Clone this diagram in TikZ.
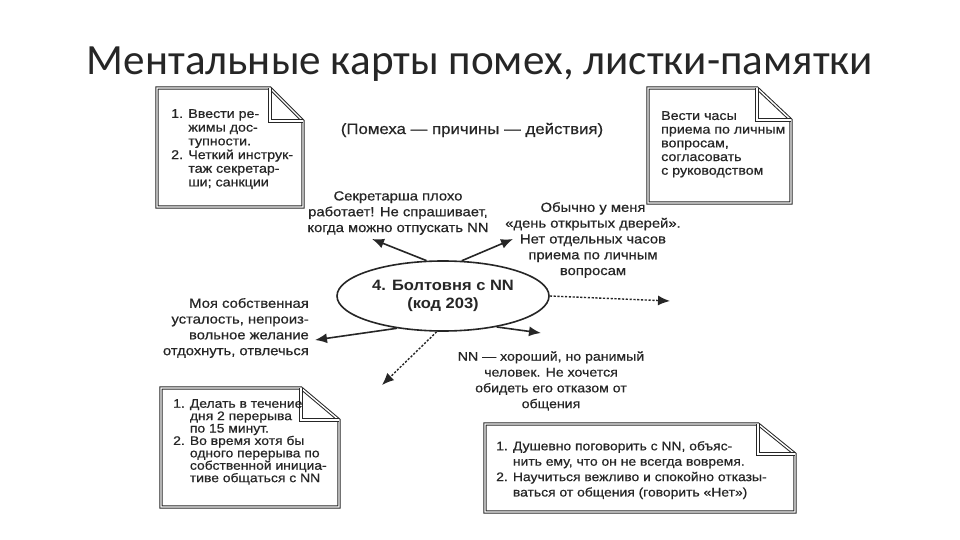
\documentclass[tikz,border=0pt]{standalone}
\usepackage{fontspec}
\usepackage{graphicx}
\setmainfont{Liberation Sans}
\newfontfamily\titlefont{Carlito}
\newfontfamily\bodyfont[FakeStretch=1.12,FakeBold=0.6]{Liberation Sans}
\newfontfamily\boldbodyfont[FakeStretch=1.1]{Liberation Sans Bold}
\usetikzlibrary{arrows.meta,shapes.geometric}
\definecolor{ink}{gray}{0.15}
\tikzset{
  notebox/.style={draw=ink, line width=1pt, double=white, double distance=1.4pt, line join=miter},
  notetext/.style={anchor=north west, inner sep=0pt, align=left, text=ink,
     font=\bodyfont\fontsize{12.7}{13.7}\selectfont},
  freetext/.style={inner sep=0pt, align=center, text=ink,
     font=\bodyfont\fontsize{13.2}{15.8}\selectfont},
  solidarrow/.style={draw=ink, line width=1.6pt, -{Latex[length=12pt,width=10pt]}},
  dasharrow/.style={draw=ink, line width=1.4pt, dash pattern=on 2.2pt off 1.6pt, -{Latex[length=12pt,width=10pt]}},
}
\newcommand{\notepath}[6]{% x1 y1 x2 y2 foldx foldy
  \draw[notebox] (#1,#2) -- (#5,#2) -- (#3,#6) -- (#3,#4) -- (#1,#4) -- cycle;
  \draw[notebox] (#5,#2) -- (#5,#6) -- (#3,#6);
}
\begin{document}
\begin{tikzpicture}[x=1pt,y=-1pt]
\useasboundingbox[fill=white] (0,0) rectangle (960,540);

% title
\node[anchor=base, inner sep=0pt, text=black!85] (title) at (480,75)
  {\resizebox{786pt}{!}{\titlefont Ментальные карты помех, листки-памятки}};

% notes
\notepath{157}{88}{303}{207}{270}{121}
\notepath{648}{88}{791}{203}{757}{120}
\notepath{161}{388}{339}{507}{301}{420}
\notepath{485}{424}{795}{512}{758}{454}

\node[notetext] (n1) at (171,109) {1. Ввести ре-\\\hphantom{1. }жимы дос-\\\hphantom{1. }тупности.\\2. Четкий инструк-\\\hphantom{2. }таж секретар-\\\hphantom{2. }ши; санкции};
\node[notetext] (n2) at (661,111) {Вести часы\\приема по личным\\вопросам,\\согласовать\\с руководством};
\node[notetext, font=\bodyfont\fontsize{12.4}{12.4}\selectfont] (n3) at (173,399) {1. Делать в течение\\\hphantom{1. }дня 2 перерыва\\\hphantom{1. }по 15 минут.\\2. Во время хотя бы\\\hphantom{2. }одного перерыва по\\\hphantom{2. }собственной инициа-\\\hphantom{2. }тиве общаться с NN};
\node[notetext, font=\bodyfont\fontsize{12.4}{15.4}\selectfont] (n4) at (496,441) {1. Душевно поговорить с NN, объяс-\\\hphantom{1. }нить ему, что он не всегда вовремя.\\2. Научиться вежливо и спокойно отказы-\\\hphantom{2. }ваться от общения (говорить «Нет»)};

% heading
\node[freetext, font=\bodyfont\fontsize{15}{17}\selectfont] (head) at (472,130) {(Помеха — причины — действия)};

% centre
\node[ellipse, draw=ink, line width=1.6pt, minimum width=212pt, minimum height=70pt, inner sep=0pt,
      align=center, text=ink, font=\boldbodyfont\fontsize{15}{18}\selectfont] (core) at (443,296)
      {4. Болтовня с NN\\(код 203)};

% causes
\node[freetext] (c1) at (398,213) {Секретарша плохо\\работает! Не спрашивает,\\когда можно отпускать NN};
\node[freetext] (c2) at (593,240) {Обычно у меня\\«день открытых дверей».\\Нет отдельных часов\\приема по личным\\вопросам};
\node[freetext, anchor=east, align=right] (c3) at (309,328) {Моя собственная\\усталость, непроиз-\\вольное желание\\отдохнуть, отвлечься};
\node[freetext, font=\bodyfont\fontsize{12.6}{15.8}\selectfont] (c4) at (551,381) {NN — хороший, но ранимый\\человек. Не хочется\\обидеть его отказом от\\общения};

% arrow ends
\coordinate (e1) at (372,239);
\coordinate (e2) at (513,239);
\coordinate (e3) at (315,340);
\coordinate (e4) at (670,301);
\coordinate (e5) at (541,333);
\coordinate (e6) at (382,385);

\draw[solidarrow] (core.115) -- (e1);
\draw[solidarrow] (core.62) -- (e2);
\draw[solidarrow] (core.215) -- (e3);
\draw[dasharrow] (core.east) -- (e4);
\draw[solidarrow] (core.-30) -- (e5);
\draw[dasharrow] (core.-100) -- (e6);
\end{tikzpicture}
\end{document}
